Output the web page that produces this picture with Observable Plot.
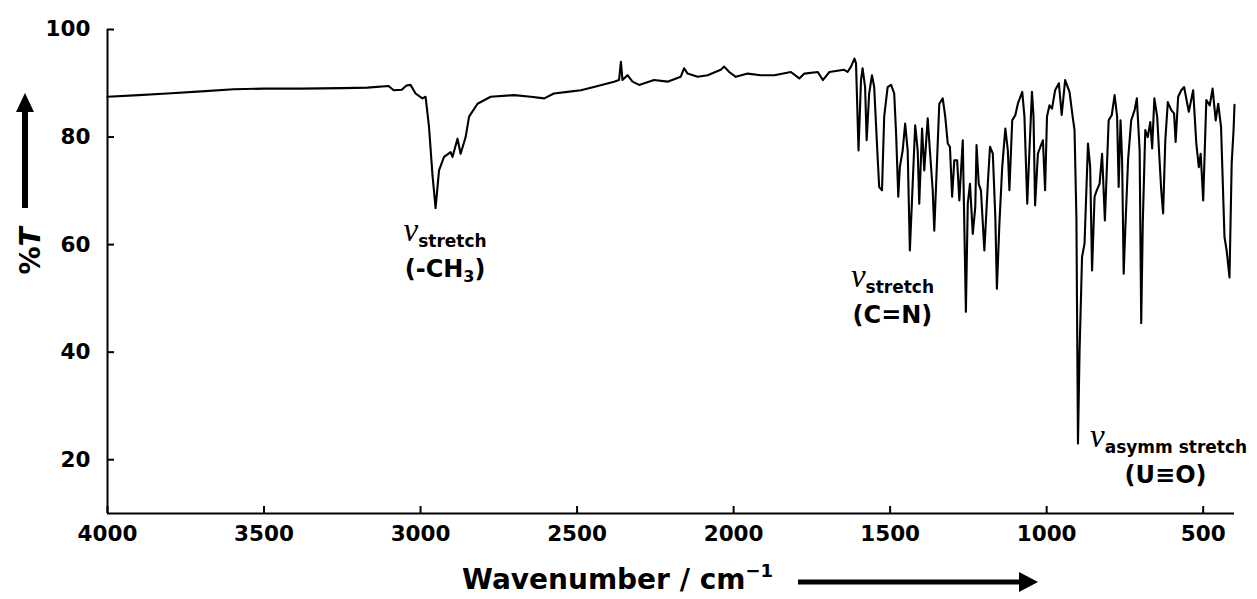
<!DOCTYPE html>
<html>
<head>
<meta charset="utf-8">
<script src="https://cdn.jsdelivr.net/npm/d3@7"></script>
<script src="https://cdn.jsdelivr.net/npm/@observablehq/plot@0.6"></script>
<style>
  html, body { margin: 0; padding: 0; background: #fff; }
</style>
</head>
<body>
<div id="chart"></div>
<script>
// Wavenumber (cm^-1) and %T
const wavenumber = [
  4000, 3900, 3809, 3700, 3597, 3500, 3383, 3250, 3170, 3102,
  3086, 3060, 3045, 3032, 3016, 2994, 2984, 2973, 2962, 2952,
  2941, 2925, 2904, 2898, 2882, 2872, 2856, 2845, 2818, 2776,
  2701, 2648, 2605, 2574, 2531, 2488, 2440, 2382, 2366, 2360,
  2355, 2339, 2323, 2302, 2254, 2211, 2169, 2158, 2147, 2115,
  2083, 2041, 2030, 2014, 1993, 1955, 1913, 1870, 1817, 1790,
  1774, 1731, 1715, 1694, 1647, 1636, 1625, 1614, 1609, 1601,
  1593, 1588, 1580, 1575, 1567, 1558, 1551, 1540, 1535, 1526,
  1519, 1508, 1497, 1487, 1481, 1474, 1469, 1460, 1452, 1444,
  1437, 1428, 1420, 1412, 1407, 1398, 1391, 1380, 1373, 1364,
  1359, 1351, 1343, 1332, 1324, 1316, 1309, 1302, 1295, 1286,
  1279, 1268, 1258, 1252, 1245, 1236, 1228, 1224, 1217, 1210,
  1199, 1188, 1181, 1172, 1164, 1159, 1151, 1142, 1132, 1124,
  1119, 1110, 1100, 1092, 1078, 1071, 1062, 1055, 1047, 1042,
  1037, 1028, 1020, 1012, 1005, 999, 991, 983, 973, 961,
  952, 941, 927, 917, 911, 905, 900, 895, 887, 879,
  868, 861, 855, 847, 840, 831, 823, 814, 802, 792,
  783, 775, 770, 764, 759, 754, 749, 740, 730, 719,
  712, 703, 698, 693, 685, 677, 669, 663, 656, 647,
  640, 634, 628, 621, 613, 602, 593, 588, 580, 570,
  561, 546, 532, 522, 514, 508, 500, 490, 479, 470,
  460, 452, 443, 432, 425, 416, 409, 403, 400
];
const transmittance = [
  87.5, 87.8, 88.1, 88.5, 88.9, 89.0, 89.0, 89.1, 89.2, 89.5,
  88.7, 88.8, 89.6, 89.7, 88.1, 87.2, 87.5, 81.9, 73.0, 66.8,
  73.8, 76.3, 77.2, 76.3, 79.7, 76.9, 80.0, 83.8, 86.2, 87.5,
  87.8, 87.5, 87.2, 88.1, 88.4, 88.7, 89.4, 90.3, 90.6, 94.0,
  90.6, 91.5, 90.3, 89.7, 90.6, 90.3, 91.2, 92.8, 91.8, 91.2,
  91.5, 92.5, 93.1, 92.1, 91.2, 91.8, 91.5, 91.5, 92.1, 90.9,
  91.8, 92.1, 90.6, 92.1, 92.5, 92.1, 93.1, 94.6, 93.7, 77.5,
  90.6, 92.8, 89.3, 79.4, 88.1, 91.5, 89.3, 76.3, 70.7, 70.1,
  83.8, 89.3, 89.7, 88.1, 80.7, 68.9, 74.4, 77.5, 82.5, 77.5,
  58.9, 71.3, 82.2, 77.5, 67.6, 81.6, 73.8, 83.5, 77.5, 70.1,
  62.6, 74.4, 86.2, 87.2, 83.8, 78.8, 78.2, 68.9, 75.7, 75.7,
  68.2, 79.4, 47.5, 67.6, 71.3, 62.0, 67.0, 78.5, 71.3, 70.1,
  58.9, 71.3, 78.2, 76.9, 65.1, 51.8, 63.9, 74.4, 81.6, 77.5,
  70.1, 83.1, 84.1, 86.2, 88.4, 83.8, 67.6, 77.5, 88.4, 83.8,
  67.3, 76.9, 78.2, 79.4, 70.1, 83.8, 85.9, 85.3, 88.7, 90.0,
  84.1, 90.6, 88.4, 83.8, 81.3, 65.0, 23.0, 40.0, 57.7, 60.2,
  78.8, 74.4, 55.2, 68.9, 70.1, 71.3, 76.9, 64.5, 83.1, 84.1,
  87.8, 83.8, 70.7, 83.1, 75.7, 54.6, 62.6, 75.7, 83.1, 85.0,
  87.2, 77.5, 45.4, 63.9, 81.3, 80.0, 82.8, 77.9, 87.2, 83.8,
  76.3, 70.1, 65.8, 79.4, 86.5, 85.0, 84.4, 79.1, 87.5, 88.7,
  89.3, 84.7, 88.7, 78.8, 74.4, 76.9, 68.2, 86.9, 85.9, 89.0,
  83.1, 86.2, 81.9, 61.4, 58.9, 53.9, 75.1, 81.3, 86.0
];
const xTicks = [4000, 3500, 3000, 2500, 2000, 1500, 1000, 500];
const yTicks = [20, 40, 60, 80, 100];
const xDomain = [4000, 400];
const yDomain = [10, 100];

// Band annotations: anchor wavenumber, %T at subscript baseline, texts
const annWavenumber = [2920, 1491, 609];
const annT = [59.5, 50.9, 21.1];
const annSub = ["stretch", "stretch", "asymm stretch"];
const annGroup = [["(-CH", "3", ")"], ["(C=N)"], ["(U\u2261O)"]];

const xTitle = "Wavenumber / cm";
const xTitleSup = "\u22121";
const yTitle = ["%", "T"];

const data = wavenumber.map((w, i) => ({w, t: transmittance[i]}));

const W = 1257, H = 599;
const chart = Plot.plot({
  width: W,
  height: H,
  marginLeft: 107,
  marginRight: 23,
  marginTop: 29,
  marginBottom: 86,
  style: {fontFamily: "DejaVu Sans", fontWeight: "bold", fontSize: "21.5px", color: "#000", background: "#fff"},
  x: {domain: xDomain, ticks: xTicks, tickFormat: "d", label: null},
  y: {domain: yDomain, ticks: yTicks, label: null},
  marks: [
    Plot.line(data, {x: "w", y: "t", stroke: "#000", strokeWidth: 2.1, strokeLinejoin: "round"}),
    Plot.ruleX([xDomain[0]], {stroke: "#000", strokeWidth: 2}),
    Plot.ruleY([yDomain[0]], {stroke: "#000", strokeWidth: 2}),
    Plot.axisY(yTicks, {anchor: "left", tickSize: -7, tickPadding: 24, strokeWidth: 2, fill: "#000", fontSize: 21.5}),
    Plot.axisX(xTicks, {anchor: "bottom", tickSize: -7, tickPadding: 19, strokeWidth: 2, fill: "#000", fontSize: 21.5, tickFormat: "d"})
  ]
});
document.getElementById("chart").appendChild(chart);

const svg = d3.select(chart);
const xs = chart.scale("x"), ys = chart.scale("y");

// annotations
annWavenumber.forEach((w, i) => {
  const cx = xs.apply(w), by = ys.apply(annT[i]);
  const t1 = svg.append("text").attr("x", cx).attr("y", by - 6).attr("text-anchor", "middle").attr("fill", "#000");
  t1.append("tspan").attr("font-family", "Liberation Serif").attr("font-style", "italic").attr("font-weight", "normal").attr("font-size", 33).text("\u03BD");
  t1.append("tspan").attr("font-family", "DejaVu Sans").attr("font-weight", "bold").attr("font-size", 17).attr("dy", 6).text(annSub[i]);
  const t2 = svg.append("text").attr("x", cx - (i === 2 ? 3 : 0)).attr("y", by + 30).attr("text-anchor", "middle")
    .attr("font-family", "DejaVu Sans").attr("font-weight", "bold").attr("font-size", 24).attr("fill", "#000");
  const g = annGroup[i];
  if (g.length === 3) {
    t2.append("tspan").text(g[0]);
    t2.append("tspan").attr("font-size", 16).attr("dy", 5).text(g[1]);
    t2.append("tspan").attr("dy", -5).text(g[2]);
  } else {
    t2.text(g[0]);
  }
});

// x title with arrow
const xt = svg.append("text").attr("x", 462).attr("y", 589).attr("text-anchor", "start")
  .attr("font-family", "DejaVu Sans").attr("font-weight", "bold").attr("font-size", 28).attr("fill", "#000");
xt.append("tspan").text(xTitle);
xt.append("tspan").attr("font-size", 18).attr("dy", -12).text(xTitleSup);
svg.append("line").attr("x1", 798).attr("x2", 1022).attr("y1", 582).attr("y2", 582).attr("stroke", "#000").attr("stroke-width", 5);
svg.append("path").attr("d", "M1019,572 L1038,582 L1019,592 Z").attr("fill", "#000");

// y title with arrow
const yt = svg.append("text").attr("transform", "translate(40,251) rotate(-90)").attr("text-anchor", "middle")
  .attr("font-family", "DejaVu Sans").attr("font-weight", "bold").attr("font-size", 28).attr("fill", "#000");
yt.append("tspan").text(yTitle[0]);
yt.append("tspan").attr("font-style", "italic").text(yTitle[1]);
svg.append("line").attr("x1", 25).attr("x2", 25).attr("y1", 208).attr("y2", 108).attr("stroke", "#000").attr("stroke-width", 6);
svg.append("path").attr("d", "M16,112 L25,93 L34,112 Z").attr("fill", "#000");
</script>
</body>
</html>
